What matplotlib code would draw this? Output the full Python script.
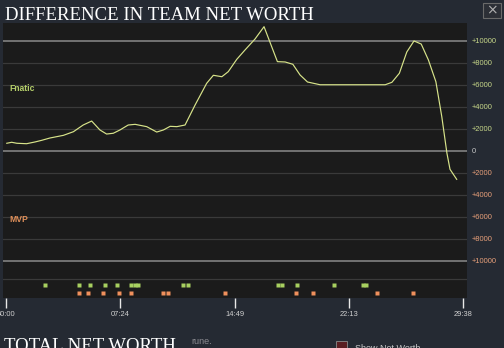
import matplotlib
matplotlib.use('Agg')
import matplotlib.pyplot as plt
import matplotlib.patches as patches
import matplotlib.transforms as mtransforms

# Diferencia de net worth (segundos de partida, valor a favor de Fnatic)
tiempo = [3, 22, 42, 80, 113, 139, 171, 223, 262, 300, 333, 365, 391, 417, 443,
          475, 502, 547, 586, 612, 638, 664, 696, 735, 780, 806, 839, 864, 897,
          929, 968, 1003, 1055, 1085, 1115, 1143, 1172, 1221, 1299, 1474, 1500,
          1529, 1558, 1586, 1614, 1642, 1671, 1694, 1714, 1726, 1752]
diferencia = [730, 820, 730, 690, 850, 1000, 1210, 1450, 1780, 2390, 2750, 1940,
              1570, 1640, 1940, 2390, 2450, 2240, 1750, 1940, 2270, 2240, 2390,
              4210, 6180, 6910, 6780, 7240, 8360, 9210, 10210, 11330, 8150, 8120,
              7910, 6940, 6300, 6050, 6050, 6050, 6270, 7090, 9030, 10030, 9750,
              8300, 6330, 3150, -180, -1640, -2550]

# Eventos (segundos) para cada equipo
eventos_fnatic = [152, 285, 327, 384, 430, 486, 500, 513, 689, 709, 1059, 1072,
                  1130, 1276, 1387, 1400]
eventos_mvp = [284, 319, 377, 439, 486, 612, 629, 853, 1128, 1195, 1441, 1582]

niveles = [10000, 8000, 6000, 4000, 2000, 0, -2000, -4000, -6000, -8000, -10000]
etiquetas_y = ['+10000', '+8000', '+6000', '+4000', '+2000', '0',
               '+2000', '+4000', '+6000', '+8000', '+10000']
ticks_x = [0, 444, 889, 1333, 1778]
etiquetas_x = ['00:00', '07:24', '14:49', '22:13', '29:38']

fondo = '#252a33'
panel = '#1b1b1b'
verde = '#c8d88a'
naranja = '#e8a07a'

# Filas de eventos y nombres de equipo (en unidades del eje y)
fila_fnatic = -12180
fila_mvp = -12908
separador = -11609
y_fnatic = 5700
y_mvp = -6180

fig = plt.figure(figsize=(5.04, 3.48), dpi=100, facecolor=fondo)
ax = fig.add_axes([3/504, 1 - 298/348, 464/504, 275/348], facecolor=panel)
ax.set_xlim(-11.7, 1792)
ax.set_ylim(-13336, 11663)

for n in niveles:
    if n in (10000, 0, -10000):
        ax.axhline(n, color='#7a7a7a', lw=1.3, zorder=1)
    else:
        ax.axhline(n, color='#3a3a3a', lw=0.9, zorder=1)
ax.axhline(separador, color='#3a3a3a', lw=0.9, zorder=1)

ax.plot(tiempo, diferencia, color='#d8e48a', lw=0.85, zorder=3)

ax.plot(eventos_fnatic, [fila_fnatic]*len(eventos_fnatic), 's', color='#a8d060',
        ms=3.3, mec='none', zorder=3)
ax.plot(eventos_mvp, [fila_mvp]*len(eventos_mvp), 's', color='#f0905c',
        ms=3.3, mec='none', zorder=3)

for s in ax.spines.values():
    s.set_visible(False)

# Etiquetas de la derecha
ax.set_yticks([])
trans = mtransforms.blended_transform_factory(ax.transAxes, ax.transData)
for n, lab in zip(niveles, etiquetas_y):
    if n > 0:
        c = verde
    elif n == 0:
        c = '#c8c8c8'
    else:
        c = naranja
    ax.text(1.01, n, lab, transform=trans, color=c, fontsize=5.4,
            family='Liberation Sans', va='center', ha='left')

ax.set_xticks(ticks_x)
ax.set_xticklabels(etiquetas_x)
ax.tick_params(axis='x', colors='#e8e8e8', length=7.2, width=1, pad=2,
               labelsize=5.4, direction='out')
for t in ax.get_xticklabels():
    t.set_family('Liberation Sans')
    t.set_color('#d0d0d0')

ax.text(6/464, y_fnatic, 'Fnatic', transform=trans, color='#b5cf6a',
        fontsize=6.2, fontweight='bold', family='Liberation Sans', va='center')
ax.text(6/464, y_mvp, 'MVP', transform=trans, color='#e0905a',
        fontsize=6.2, fontweight='bold', family='Liberation Sans', va='center')

fig.text(5/504, 1 - 19.5/348, 'DIFFERENCE IN TEAM NET WORTH', color='white',
         fontsize=13.5, family='Liberation Serif', va='baseline', ha='left')
fig.text(4/504, 1 - 351/348, 'TOTAL NET WORTH', color='white',
         fontsize=13.5, family='Liberation Serif', va='baseline', ha='left')
fig.text(191/504, 1 - 344/348, 'rune.', color='#8a8a90',
         fontsize=6.5, family='Liberation Sans', va='baseline', ha='left')
fig.text(355/504, 1 - 351/348, 'Show Net Worth', color='#c8c8c8',
         fontsize=6.5, family='Liberation Sans', va='baseline', ha='left')
fig.patches.append(patches.Rectangle((336/504, 1 - 352/348), 11/504, 11/348,
                                     transform=fig.transFigure, fc='#5a1e22',
                                     ec='#8a8a8a', lw=0.6))

# Boton de cerrar
fig.patches.append(patches.Rectangle((483/504, 1 - 18/348), 18/504, 15/348,
                                     transform=fig.transFigure, fc='#2c2f36',
                                     ec='#6a6a6a', lw=0.8))
fig.text(492/504, 1 - 10.5/348, '×', color='#b0b0b0', fontsize=10,
         ha='center', va='center')

fig.savefig('out.png', dpi=100, facecolor=fondo)
